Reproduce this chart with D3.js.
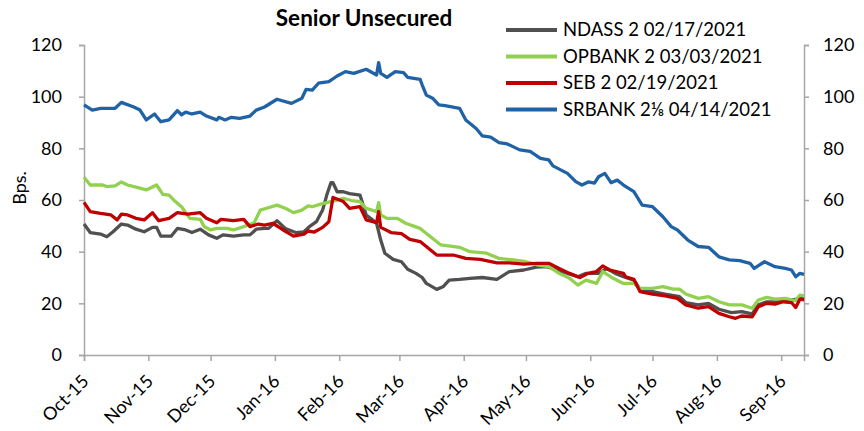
<!DOCTYPE html>
<html>
<head>
<meta charset="utf-8">
<script src="https://cdn.jsdelivr.net/npm/d3@7"></script>
<style>
  body { margin: 0; background: #fff; }
  svg text { font-family: Lato, "Open Sans", sans-serif; fill: #000; }
</style>
</head>
<body>
<div id="chart"></div>
<script>
// series names (legend order)
var seriesNames = ["NDASS 2 02/17/2021", "OPBANK 2 03/03/2021", "SEB 2 02/19/2021", "SRBANK 2\u215B 04/14/2021"];
var seriesColors = ["#505050", "#92d050", "#c00000", "#1f63a6"];
var yTicks = [0, 20, 40, 60, 80, 100, 120];

// values, [date, bps]
var ndass = [
  ["2015-10-01",50.7],["2015-10-04",47.4],["2015-10-09",46.8],["2015-10-12",45.8],["2015-10-15",47.7],
  ["2015-10-19",50.7],["2015-10-22",50.3],["2015-10-26",48.7],["2015-10-30",47.7],["2015-11-03",49.4],
  ["2015-11-05",49.4],["2015-11-07",46],["2015-11-12",46],["2015-11-15",49],["2015-11-19",48.4],
  ["2015-11-22",47.4],["2015-11-26",48.7],["2015-11-30",46.5],["2015-12-04",45.2],["2015-12-07",46.5],
  ["2015-12-12",46],["2015-12-17",46.5],["2015-12-20",46.5],["2015-12-23",48.7],["2015-12-27",49],
  ["2015-12-29",49],["2016-01-02",52],["2016-01-06",49],["2016-01-11",47.4],["2016-01-15",47.7],
  ["2016-01-18",49.9],["2016-01-21",51.6],["2016-01-24",56.1],["2016-01-26",61.9],["2016-01-28",66.7],
  ["2016-01-29",66.7],["2016-01-31",63.2],["2016-02-03",63.2],["2016-02-06",62.5],["2016-02-11",61.9],
  ["2016-02-12",59.4],["2016-02-14",54.2],["2016-02-17",52.3],["2016-02-19",51],["2016-02-21",44.5],
  ["2016-02-23",39.4],["2016-02-27",37],["2016-03-02",36.1],["2016-03-05",33.2],["2016-03-09",31.6],
  ["2016-03-12",30],["2016-03-14",27.7],["2016-03-19",25.4],["2016-03-22",26.4],["2016-03-25",29],
  ["2016-03-30",29.3],["2016-04-04",29.7],["2016-04-10",30],["2016-04-17",29.3],["2016-04-23",32.3],
  ["2016-04-30",32.9],["2016-05-06",34],["2016-05-11",34.2],["2016-05-16",32.9],["2016-05-21",31.6],
  ["2016-05-26",30.3],["2016-05-30",31.6],["2016-06-05",31.6],["2016-06-09",33.5],["2016-06-13",31.6],
  ["2016-06-17",30.3],["2016-06-22",29],["2016-06-25",25.4],["2016-07-01",24.5],["2016-07-07",23.6],
  ["2016-07-14",22.6],["2016-07-17",20.3],["2016-07-23",19.4],["2016-07-28",20],["2016-08-02",17.7],
  ["2016-08-08",16.4],["2016-08-13",16.8],["2016-08-18",15.9],["2016-08-21",19.4],["2016-08-25",20.6],
  ["2016-08-31",20.6],["2016-09-06",21.3],["2016-09-12",21.9]
];
var opbank = [
  ["2015-10-01",68.8],["2015-10-04",65.8],["2015-10-10",65.8],["2015-10-12",65.2],["2015-10-16",65.5],
  ["2015-10-19",67],["2015-10-22",65.8],["2015-10-27",64.8],["2015-10-31",63.9],["2015-11-05",65.8],
  ["2015-11-08",62.2],["2015-11-11",61.9],["2015-11-14",59.4],["2015-11-17",57.4],["2015-11-21",52.9],
  ["2015-11-26",52.5],["2015-11-28",49.7],["2015-12-01",48.4],["2015-12-04",49],["2015-12-09",49],
  ["2015-12-12",48.4],["2015-12-17",49.7],["2015-12-22",51.2],["2015-12-25",56.1],["2015-12-28",56.8],
  ["2016-01-02",58],["2016-01-06",56.8],["2016-01-10",55.1],["2016-01-14",56.1],["2016-01-17",57.7],
  ["2016-01-19",57.4],["2016-01-23",58.4],["2016-01-28",59.4],["2016-02-03",60.6],["2016-02-07",59.8],
  ["2016-02-11",59.4],["2016-02-14",56.8],["2016-02-19",55.5],["2016-02-20",59],["2016-02-21",54.2],
  ["2016-02-24",52.9],["2016-02-29",52.9],["2016-03-04",51],["2016-03-11",49],["2016-03-16",45.8],
  ["2016-03-21",42.6],["2016-03-30",41.7],["2016-04-04",40],["2016-04-12",39.4],["2016-04-18",37.4],
  ["2016-04-25",36.8],["2016-05-01",36.1],["2016-05-07",34.8],["2016-05-12",34.2],["2016-05-17",31.6],
  ["2016-05-22",29.7],["2016-05-26",27.1],["2016-05-30",29],["2016-06-04",27.7],["2016-06-07",32.3],
  ["2016-06-12",29.7],["2016-06-17",27.7],["2016-06-22",27.7],["2016-06-25",25.8],["2016-07-01",25.8],
  ["2016-07-06",26.5],["2016-07-11",25.5],["2016-07-14",25.5],["2016-07-17",23.6],["2016-07-23",21.9],
  ["2016-07-28",22.6],["2016-08-02",20.6],["2016-08-07",19.4],["2016-08-13",19.4],["2016-08-18",18.1],
  ["2016-08-21",21.3],["2016-08-25",22.3],["2016-08-29",21.6],["2016-09-03",21.9],["2016-09-08",21],
  ["2016-09-10",23.2],["2016-09-12",22.9]
];
var seb = [
  ["2015-10-01",59.1],["2015-10-04",55.5],["2015-10-09",54.8],["2015-10-14",54.2],["2015-10-17",52.3],
  ["2015-10-19",54.5],["2015-10-22",54.2],["2015-10-26",52.9],["2015-10-30",52.3],["2015-11-03",55.1],
  ["2015-11-06",52],["2015-11-11",52.9],["2015-11-15",55.1],["2015-11-20",54.5],["2015-11-26",55.1],
  ["2015-11-29",52.9],["2015-12-04",51.2],["2015-12-06",52.5],["2015-12-12",52],["2015-12-17",52.5],
  ["2015-12-20",49.7],["2015-12-24",50.7],["2015-12-27",50.3],["2015-12-31",51],["2016-01-05",48.4],
  ["2016-01-10",46],["2016-01-15",46.8],["2016-01-17",48],["2016-01-20",47.6],["2016-01-24",49.4],
  ["2016-01-27",51.6],["2016-01-29",61],["2016-02-03",59.4],["2016-02-06",56.8],["2016-02-11",57.4],
  ["2016-02-14",52.3],["2016-02-19",51.2],["2016-02-20",55.5],["2016-02-21",49.4],["2016-02-26",47.4],
  ["2016-03-02",47],["2016-03-06",44.8],["2016-03-11",43.9],["2016-03-15",41.3],["2016-03-19",38.7],
  ["2016-03-27",38.7],["2016-04-02",37.4],["2016-04-09",37],["2016-04-17",35.7],["2016-04-23",35.7],
  ["2016-04-30",35.2],["2016-05-06",35.5],["2016-05-12",35.5],["2016-05-17",33.5],["2016-05-22",31.6],
  ["2016-05-27",30],["2016-05-31",31.6],["2016-06-04",32.3],["2016-06-07",34.5],["2016-06-10",33],
  ["2016-06-17",31.6],["2016-06-18",30.3],["2016-06-22",29.3],["2016-06-25",24.5],["2016-07-01",23.6],
  ["2016-07-07",22.9],["2016-07-13",21.9],["2016-07-17",19.4],["2016-07-23",18.1],["2016-07-28",18.7],
  ["2016-08-02",16.1],["2016-08-07",14.8],["2016-08-10",14.2],["2016-08-13",15.1],["2016-08-18",14.8],
  ["2016-08-21",18.7],["2016-08-25",20],["2016-08-29",19.7],["2016-09-02",20.6],["2016-09-06",20.3],
  ["2016-09-08",18.4],["2016-09-10",21.6],["2016-09-12",21.3]
];
var srbank = [
  ["2015-10-01",96.8],["2015-10-05",94.8],["2015-10-09",95.5],["2015-10-16",95.5],["2015-10-19",97.8],
  ["2015-10-25",96],["2015-10-28",94.8],["2015-10-31",91],["2015-11-04",93.3],["2015-11-07",90.3],
  ["2015-11-11",91],["2015-11-15",94.6],["2015-11-17",93],["2015-11-19",94],["2015-11-22",93.3],
  ["2015-11-26",94],["2015-11-29",92.5],["2015-12-04",91],["2015-12-05",92],["2015-12-08",91],
  ["2015-12-11",92],["2015-12-15",91.6],["2015-12-20",92.5],["2015-12-23",94.8],["2015-12-27",96],
  ["2016-01-02",99],["2016-01-09",97.4],["2016-01-14",99.4],["2016-01-16",102.8],["2016-01-19",102.5],
  ["2016-01-22",105.2],["2016-01-27",105.8],["2016-01-31",108],["2016-02-04",109.7],["2016-02-08",109],
  ["2016-02-14",110.6],["2016-02-19",108.4],["2016-02-20",113.2],["2016-02-21",109],["2016-02-24",107.5],
  ["2016-02-28",109.7],["2016-03-03",109.3],["2016-03-05",107.5],["2016-03-11",106.7],["2016-03-12",104.5],
  ["2016-03-14",100.6],["2016-03-17",99.4],["2016-03-20",96.8],["2016-03-23",96.5],["2016-03-30",95.5],
  ["2016-04-02",91],["2016-04-07",87.7],["2016-04-10",84.8],["2016-04-14",84.3],["2016-04-18",82.2],
  ["2016-04-22",81.7],["2016-04-28",79.4],["2016-05-03",78.8],["2016-05-08",76.1],["2016-05-12",75.5],
  ["2016-05-14",73.2],["2016-05-21",70.3],["2016-05-25",67.1],["2016-05-28",65.8],["2016-05-31",67],
  ["2016-06-03",66.5],["2016-06-05",69],["2016-06-08",70.3],["2016-06-11",66.7],["2016-06-14",67.7],
  ["2016-06-17",65.8],["2016-06-22",63.2],["2016-06-26",58],["2016-07-01",57.4],["2016-07-06",53.5],
  ["2016-07-10",49.7],["2016-07-13",48.4],["2016-07-18",44.5],["2016-07-23",42],["2016-07-28",41.7],
  ["2016-08-02",38],["2016-08-07",36.8],["2016-08-12",36.5],["2016-08-17",35.5],["2016-08-19",33.5],
  ["2016-08-24",36.1],["2016-08-29",34.2],["2016-09-03",33.5],["2016-09-06",32.9],["2016-09-08",30.3],
  ["2016-09-10",31.6],["2016-09-12",31.2]
];
var allSeries = [ndass, opbank, seb, srbank];

function init()
{
    var w = 864, h = 431;
    var plotLeft = 84, plotRight = 804, plotTop = 45, plotBottom = 355;
    var parse = d3.timeParse("%Y-%m-%d");
    var axisColor = "#a6a6a6";

    var svg = d3.select("#chart").append("svg")
        .attr("width", w)
        .attr("height", h);

    var x = d3.scaleTime()
        .domain([parse("2015-10-01"), parse("2016-09-12")])
        .range([plotLeft, plotRight]);
    var y = d3.scaleLinear()
        .domain([0, 120])
        .range([plotBottom, plotTop]);

    // left + right value axes, month axis
    var yl = svg.append("g")
        .attr("transform", "translate(" + plotLeft + ",0)")
        .call(d3.axisLeft(y).tickValues(yTicks).tickSize(5).tickPadding(17));
    var yr = svg.append("g")
        .attr("transform", "translate(" + plotRight + ",0)")
        .call(d3.axisRight(y).tickValues(yTicks).tickSize(5).tickPadding(14));
    var xa = svg.append("g")
        .attr("transform", "translate(0," + plotBottom + ")")
        .call(d3.axisBottom(x).ticks(d3.timeMonth.every(1)).tickFormat(d3.timeFormat("%b-%y")).tickSize(6));

    [yl, yr, xa].forEach(function(g) {
        g.select(".domain").attr("stroke", axisColor).attr("stroke-width", 1.5);
        g.selectAll(".tick line").attr("stroke", axisColor).attr("stroke-width", 1.5);
        g.selectAll("text").attr("font-size", "18px").attr("fill", "#000");
    });
    xa.selectAll("text")
        .attr("text-anchor", "end")
        .attr("y", 0)
        .attr("dy", "0.35em")
        .attr("transform", "translate(1,23) rotate(-45)");

    var line = d3.line()
        .x(function(d) { return x(parse(d[0])); })
        .y(function(d) { return y(d[1]); });

    allSeries.forEach(function(s, i) {
        svg.append("path")
            .datum(s)
            .attr("fill", "none")
            .attr("stroke", seriesColors[i])
            .attr("stroke-width", 3.3)
            .attr("stroke-linejoin", "round")
            .attr("d", line);
    });

    svg.append("text")
        .attr("x", 364)
        .attr("y", 26)
        .attr("text-anchor", "middle")
        .attr("font-size", "22.5px")
        .attr("font-weight", "bold")
        .text("Senior Unsecured");

    svg.append("text")
        .attr("transform", "translate(26,188) rotate(-90)")
        .attr("text-anchor", "middle")
        .attr("font-size", "18px")
        .text("Bps.");

    // legend
    var legend = svg.append("g");
    seriesNames.forEach(function(name, i) {
        var ly = 30 + i * 26.5;
        legend.append("line")
            .attr("x1", 506).attr("x2", 557)
            .attr("y1", ly).attr("y2", ly)
            .attr("stroke", seriesColors[i])
            .attr("stroke-width", 4);
        legend.append("text")
            .attr("x", 563)
            .attr("y", ly)
            .attr("dy", "0.35em")
            .attr("font-size", "18.5px")
            .text(name);
    });
}
window.onload = init;
</script>
</body>
</html>
